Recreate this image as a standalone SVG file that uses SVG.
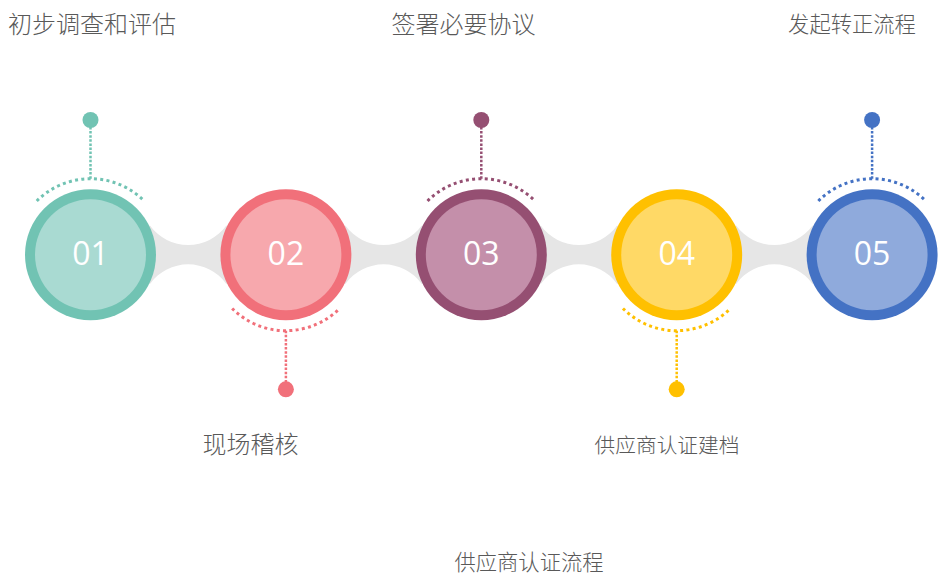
<svg xmlns="http://www.w3.org/2000/svg" xmlns:xlink="http://www.w3.org/1999/xlink" width="938" height="575" viewBox="0 0 938 575">
<style>
.lbl{font-family:"Noto Sans CJK SC","Microsoft YaHei",sans-serif;font-weight:300;fill:#595959;text-anchor:middle}
.num{font-family:"Open Sans","Liberation Sans",sans-serif;font-size:32px;fill:#ffffff;text-anchor:middle}
.arc{fill:none;stroke-width:3;stroke-dasharray:3 3.3}
.vl{fill:none;stroke-width:2.5;stroke-dasharray:2.5 1.6}
.conn{fill:#e6e6e6}
</style>
<defs>
<path id="cshape" d="M0,225.7 L59.65,225.7 A47 47 0 0 0 135.65,225.7 L195.4,225.7 L195.4,283.7 L135.65,283.7 A47 47 0 0 0 59.65,283.7 L0,283.7 Z"/>
</defs>
<rect width="938" height="575" fill="#ffffff"/>
<g id="connectors" class="conn">
<use xlink:href="#cshape" x="90.5"/>
<use xlink:href="#cshape" x="285.9"/>
<use xlink:href="#cshape" x="481.3"/>
<use xlink:href="#cshape" x="676.7"/>
</g>
<g id="node1">
<circle cx="90.5" cy="254.7" r="65.5" fill="#71c3b3"/>
<circle cx="90.5" cy="254.7" r="55.5" fill="#a9dad2"/>
<text class="num" x="90.5" y="265">01</text>
<path class="arc" stroke="#71c3b3" d="M36.76,200.96 A76 76 0 0 1 144.24,200.96"/>
<line class="vl" stroke="#71c3b3" x1="90.5" y1="178.7" x2="90.5" y2="126"/>
<circle cx="90.5" cy="120" r="8" fill="#71c3b3"/>
<text class="lbl" x="92" y="33" font-size="24">初步调查和评估</text>
</g>
<g id="node2">
<circle cx="285.9" cy="254.7" r="65.5" fill="#f1707a"/>
<circle cx="285.9" cy="254.7" r="55.5" fill="#f7a8ad"/>
<text class="num" x="285.9" y="265">02</text>
<path class="arc" stroke="#f1707a" d="M232.16,308.44 A76 76 0 0 0 339.64,308.44"/>
<line class="vl" stroke="#f1707a" x1="285.9" y1="330.7" x2="285.9" y2="383"/>
<circle cx="285.9" cy="389.3" r="8" fill="#f1707a"/>
<text class="lbl" x="250.5" y="453" font-size="24">现场稽核</text>
</g>
<g id="node3">
<circle cx="481.3" cy="254.7" r="65.5" fill="#954f72"/>
<circle cx="481.3" cy="254.7" r="55.5" fill="#c48faa"/>
<text class="num" x="481.3" y="265">03</text>
<path class="arc" stroke="#954f72" d="M427.56,200.96 A76 76 0 0 1 535.04,200.96"/>
<line class="vl" stroke="#954f72" x1="481.3" y1="178.7" x2="481.3" y2="126"/>
<circle cx="481.3" cy="120" r="8" fill="#954f72"/>
<text class="lbl" x="463.5" y="33" font-size="24">签署必要协议</text>
</g>
<g id="node4">
<circle cx="676.7" cy="254.7" r="65.5" fill="#ffc000"/>
<circle cx="676.7" cy="254.7" r="55.5" fill="#ffd966"/>
<text class="num" x="676.7" y="265">04</text>
<path class="arc" stroke="#ffc000" d="M622.96,308.44 A76 76 0 0 0 730.44,308.44"/>
<line class="vl" stroke="#ffc000" x1="676.7" y1="330.7" x2="676.7" y2="383"/>
<circle cx="676.7" cy="389.3" r="8" fill="#ffc000"/>
<text class="lbl" x="667" y="452.7" font-size="20.7">供应商认证建档</text>
</g>
<g id="node5">
<circle cx="872.1" cy="254.7" r="65.5" fill="#4472c4"/>
<circle cx="872.1" cy="254.7" r="55.5" fill="#8faadc"/>
<text class="num" x="872.1" y="265">05</text>
<path class="arc" stroke="#4472c4" d="M818.36,200.96 A76 76 0 0 1 925.84,200.96"/>
<line class="vl" stroke="#4472c4" x1="872.1" y1="178.7" x2="872.1" y2="126"/>
<circle cx="872.1" cy="120" r="8" fill="#4472c4"/>
<text class="lbl" x="852" y="31.8" font-size="21.3">发起转正流程</text>
</g>
<g id="title">
<text class="lbl" x="529" y="570" font-size="21.3">供应商认证流程</text>
</g>
</svg>
